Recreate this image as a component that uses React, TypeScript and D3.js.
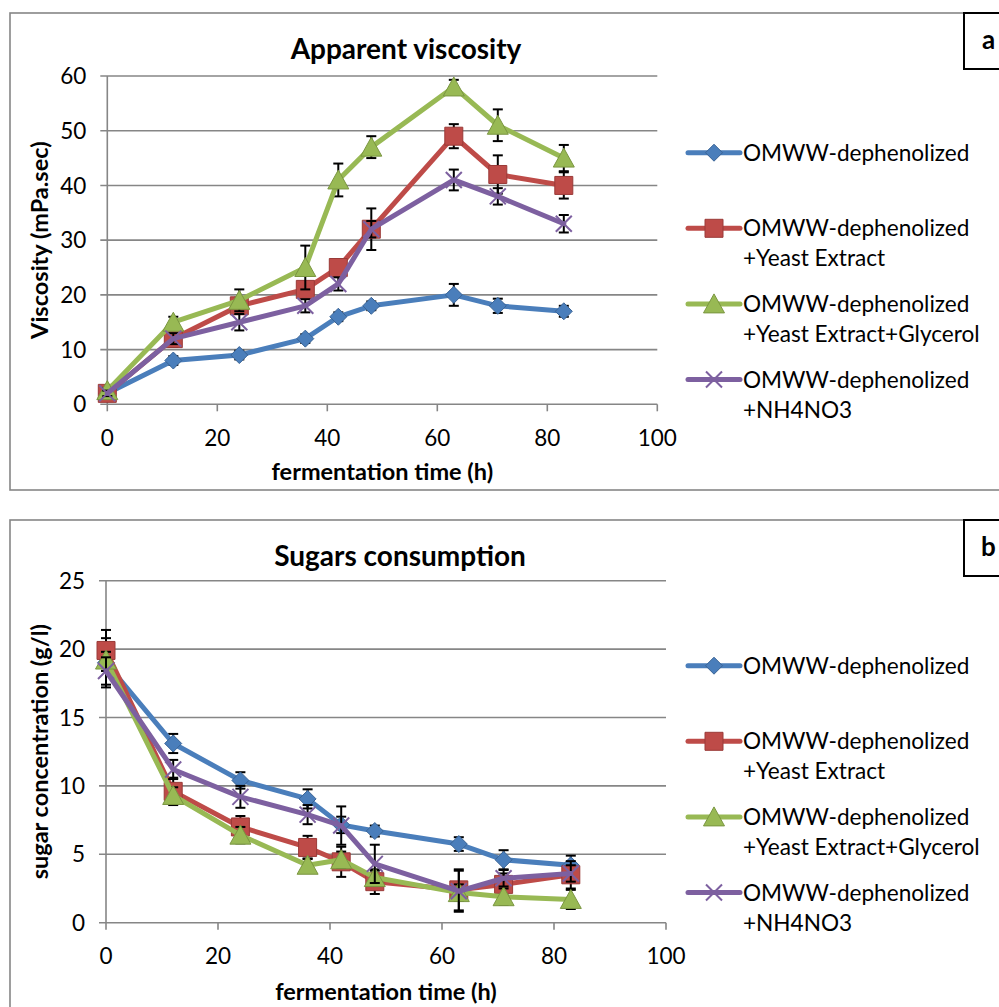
import React from "react";
import * as d3 from "d3";

// Sampling times (h), shared by both panels
const HOURS = [0, 12, 24, 36, 42, 48, 63, 71, 83];
const TIME_TICKS = [0, 20, 40, 60, 80, 100];

// Series legend text (each entry is the list of lines)
const SERIES_LABELS = [
  ["OMWW-dephenolized"],
  ["OMWW-dephenolized", "+Yeast Extract"],
  ["OMWW-dephenolized", "+Yeast Extract+Glycerol"],
  ["OMWW-dephenolized", "+NH4NO3"],
];
const SERIES_COLORS = ["#4A7EBB", "#BE4B48", "#98B954", "#7D60A0"];
const SERIES_EDGES = ["#3A6496", "#9A3A38", "#7A9640", "#62487F"];
const SERIES_MARKERS = ["diamond", "square", "triangle", "cross"];

// Panel a: apparent viscosity (mPa.sec)
const VISCOSITY_TICKS = [0, 10, 20, 30, 40, 50, 60];
const viscosityBase = [2, 8, 9, 12, 16, 18, 20, 18, 17];
const viscosityBaseErr = [0.5, 0.8, 0.8, 0.8, 0.8, 0.8, 2, 1.3, 1];
const viscosityYeast = [2, 12, 18, 21, 25, 32, 49, 42, 40];
const viscosityYeastErr = [0.5, 1.5, 1.5, 1.2, 1.5, 3.8, 2.2, 3.5, 2.4];
const viscosityGlycerol = [2.5, 15, 19, 25, 41, 47, 58, 51, 45];
const viscosityGlycerolErr = [0.5, 1, 2, 4, 3, 2, 1.3, 2.9, 2.4];
const viscosityNitrate = [2, 12, 15, 18, 22, 32, 41, 38, 33];
const viscosityNitrateErr = [0.5, 1, 1.5, 1.2, 1.2, 1.5, 1.9, 1.5, 1.6];

// Panel b: sugar concentration (g/l)
const SUGAR_TICKS = [0, 5, 10, 15, 20, 25];
const sugarBase = [19, 13.1, 10.4, 9.05, 7.15, 6.7, 5.75, 4.6, 4.2];
const sugarBaseErr = [1.8, 0.7, 0.6, 0.7, 0.6, 0.4, 0.5, 0.7, 0.7];
const sugarYeast = [19.9, 9.6, 7.0, 5.5, 4.45, 3.0, 2.4, 2.8, 3.5];
const sugarYeastErr = [1.5, 1.0, 0.8, 0.85, 1.1, 0.9, 1.5, 0.8, 1.0];
const sugarGlycerol = [19.2, 9.3, 6.4, 4.2, 4.6, 3.3, 2.2, 1.9, 1.7];
const sugarGlycerolErr = [0.6, 0.6, 0.6, 0.5, 0.6, 0.5, 0.6, 0.6, 0.7];
const sugarNitrate = [18.4, 11.2, 9.2, 7.9, 7.1, 4.3, 2.3, 3.25, 3.6];
const sugarNitrateErr = [1.0, 0.7, 0.8, 0.7, 1.4, 1.4, 1.5, 0.6, 0.6];

const FONT = "Lato, 'Open Sans', sans-serif";
const GRID = "#868686";

type Series = { values: number[]; errors: number[] };

type PanelProps = {
  letter: string;
  title: string;
  titleX: number;
  titleY: number;
  yTitle: string;
  frameTop: number;
  frameHeight: number;
  xRange: [number, number];
  yRange: [number, number];
  yDomain: [number, number];
  yTicks: number[];
  xTickLabelY: number;
  xTitleY: number;
  legendTop: number;
  series: Series[];
};

function markerPath(kind: string): string {
  if (kind === "diamond") {
    const r = 8.5;
    return `M0,${-r}L${r},0L0,${r}L${-r},0Z`;
  }
  if (kind === "square") {
    const r = 9;
    return `M${-r},${-r}H${r}V${r}H${-r}Z`;
  }
  if (kind === "triangle") {
    const w = 10.5;
    return `M0,-10L${w},9L${-w},9Z`;
  }
  const r = 8;
  return `M${-r},${-r}L${r},${r}M${r},${-r}L${-r},${r}`;
}

function Marker({ kind, i, x, y }: { kind: string; i: number; x: number; y: number }) {
  if (kind === "cross") {
    return (
      <path
        d={markerPath(kind)}
        transform={`translate(${x},${y})`}
        fill="none"
        stroke={SERIES_COLORS[i]}
        strokeWidth={2}
      />
    );
  }
  return (
    <path
      d={markerPath(kind)}
      transform={`translate(${x},${y})`}
      fill={SERIES_COLORS[i]}
      stroke={SERIES_EDGES[i]}
      strokeWidth={1}
      strokeLinejoin="miter"
    />
  );
}

function Panel(p: PanelProps) {
  const x = d3.scaleLinear().domain([0, 100]).range(p.xRange);
  const y = d3.scaleLinear().domain(p.yDomain).range(p.yRange);
  const line = d3
    .line<number>()
    .x((_, k) => x(HOURS[k]))
    .y((v) => y(v));
  const [xL, xR] = p.xRange;
  const yB = p.yRange[0];
  const yT = p.yRange[1];
  const yMid = (yB + yT) / 2;
  const xMid = (xL + xR) / 2;

  return (
    <g>
      <rect
        x={10}
        y={p.frameTop}
        width={1010}
        height={p.frameHeight}
        fill="#fff"
        stroke={GRID}
        strokeWidth={1.6}
      />
      <rect x={964} y={p.frameTop} width={60} height={56} fill="#fff" stroke="#000" strokeWidth={2} />
      <text
        x={988.5}
        y={p.frameTop + 36}
        textAnchor="middle"
        fontFamily={FONT}
        fontWeight="bold"
        fontSize={26}
      >
        {p.letter}
      </text>

      <text
        x={p.titleX}
        y={p.titleY}
        textAnchor="middle"
        fontFamily={FONT}
        fontWeight="bold"
        fontSize={28}
      >
        {p.title}
      </text>

      {/* gridlines with left tick stubs */}
      {p.yTicks.map((t) => (
        <g key={t}>
          <line x1={xL - 7} x2={xR} y1={y(t)} y2={y(t)} stroke={GRID} strokeWidth={1.6} />
          <text
            x={xL - 21}
            y={y(t)}
            dy="0.36em"
            textAnchor="end"
            fontFamily={FONT}
            fontSize={22.5}
          >
            {t}
          </text>
        </g>
      ))}
      <line x1={xL} x2={xL} y1={yT} y2={yB} stroke={GRID} strokeWidth={1.6} />
      {TIME_TICKS.map((t) => (
        <g key={t}>
          <line x1={x(t)} x2={x(t)} y1={yB} y2={yB + 7} stroke={GRID} strokeWidth={1.6} />
          <text x={x(t)} y={p.xTickLabelY} textAnchor="middle" fontFamily={FONT} fontSize={22.5}>
            {t}
          </text>
        </g>
      ))}

      <text x={xMid} y={p.xTitleY} textAnchor="middle" fontFamily={FONT} fontWeight="bold" fontSize={23.5}>
        fermentation time (h)
      </text>
      <text
        transform={`translate(48,${yMid}) rotate(-90)`}
        textAnchor="middle"
        fontFamily={FONT}
        fontWeight="bold"
        fontSize={23.5}
      >
        {p.yTitle}
      </text>

      {/* series: error bars sit beneath the line and markers */}
      {p.series.map((s, i) => (
        <g key={i}>
          {s.values.map((v, k) => {
            const cx = x(HOURS[k]);
            const y1 = y(v + s.errors[k]);
            const y2 = y(v - s.errors[k]);
            return (
              <g key={"e" + k} stroke="#000" strokeWidth={2}>
                <line x1={cx} x2={cx} y1={y1} y2={y2} />
                <line x1={cx - 5} x2={cx + 5} y1={y1} y2={y1} />
                <line x1={cx - 5} x2={cx + 5} y1={y2} y2={y2} />
              </g>
            );
          })}
          <path
            d={line(s.values) ?? ""}
            fill="none"
            stroke={SERIES_COLORS[i]}
            strokeWidth={5}
            strokeLinejoin="round"
            strokeLinecap="round"
          />
          {s.values.map((v, k) => (
            <Marker key={k} kind={SERIES_MARKERS[i]} i={i} x={x(HOURS[k])} y={y(v)} />
          ))}
        </g>
      ))}

      {/* legend */}
      {SERIES_LABELS.map((lines, i) => {
        const cy = p.legendTop + i * 75.6;
        return (
          <g key={"l" + i}>
            <line x1={688} x2={740} y1={cy} y2={cy} stroke={SERIES_COLORS[i]} strokeWidth={5} strokeLinecap="round" />
            <Marker kind={SERIES_MARKERS[i]} i={i} x={714} y={cy} />
            {lines.map((ln, j) => (
              <text
                key={j}
                x={743}
                y={cy + 8 + j * 30}
                fontFamily={FONT}
                fontSize={22.6}
              >
                {ln}
              </text>
            ))}
          </g>
        );
      })}
    </g>
  );
}

export default function App() {
  const viscositySeries: Series[] = [
    { values: viscosityBase, errors: viscosityBaseErr },
    { values: viscosityYeast, errors: viscosityYeastErr },
    { values: viscosityGlycerol, errors: viscosityGlycerolErr },
    { values: viscosityNitrate, errors: viscosityNitrateErr },
  ];
  const sugarSeries: Series[] = [
    { values: sugarBase, errors: sugarBaseErr },
    { values: sugarYeast, errors: sugarYeastErr },
    { values: sugarGlycerol, errors: sugarGlycerolErr },
    { values: sugarNitrate, errors: sugarNitrateErr },
  ];
  return (
    <svg
      width={999}
      height={1007}
      viewBox="0 0 999 1007"
      style={{ position: "absolute", left: 0, top: 0, background: "#fff" }}
    >
      <Panel
        letter="a"
        title="Apparent viscosity"
        titleX={406}
        titleY={59}
        yTitle="Viscosity (mPa.sec)"
        frameTop={13}
        frameHeight={477}
        xRange={[107.3, 657.3]}
        yRange={[404.3, 76]}
        yDomain={[0, 60]}
        yTicks={VISCOSITY_TICKS}
        xTickLabelY={446}
        xTitleY={480}
        legendTop={152.7}
        series={viscositySeries}
      />
      <Panel
        letter="b"
        title="Sugars consumption"
        titleX={400}
        titleY={566}
        yTitle="sugar concentration (g/l)"
        frameTop={520}
        frameHeight={500}
        xRange={[106, 666]}
        yRange={[922.7, 580.7]}
        yDomain={[0, 25]}
        yTicks={SUGAR_TICKS}
        xTickLabelY={964}
        xTitleY={1000}
        legendTop={665.7}
        series={sugarSeries}
      />
    </svg>
  );
}
